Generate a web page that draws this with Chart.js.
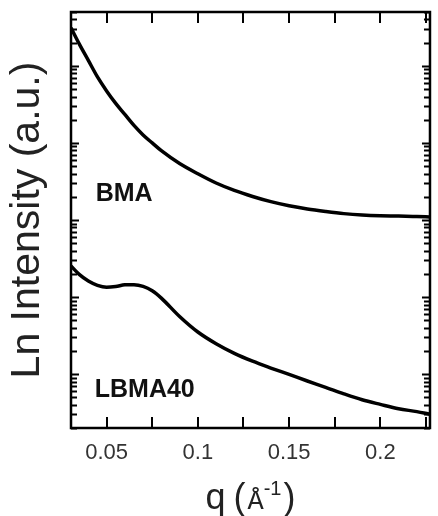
<!DOCTYPE html>
<html>
<head>
<meta charset="utf-8">
<script src="https://cdn.jsdelivr.net/npm/chart.js@4.4.0/dist/chart.umd.min.js"></script>
<style>
  body { margin: 0; background: #fff; }
  #wrap { width: 438px; height: 516px; }
</style>
</head>
<body>
<div id="wrap"><canvas id="saxs-chart" width="438" height="516"></canvas></div>
<script>
// ==================== DATA ====================
// scattering vector q (1/Å), shared by both curves
const qValues = [0.0305, 0.035, 0.04, 0.045, 0.05, 0.055, 0.06, 0.065, 0.07, 0.075, 0.08,
  0.09, 0.10, 0.11, 0.12, 0.13, 0.14, 0.15, 0.16, 0.17, 0.18, 0.19, 0.20, 0.21, 0.22, 0.227];

// intensities (a.u.), log axis
const bmaIntensity = [31180, 19320, 11790, 7195, 4733, 3258, 2345, 1688, 1270, 1000, 792,
  540, 398, 302, 242, 202, 173, 153, 139, 129, 121, 116, 113.4, 112.4, 110.7, 109.4];
const lbmaIntensity = [25.27, 19.66, 16.14, 14.19, 13.40, 13.70, 14.40, 14.50, 13.80, 12.10, 9.70,
  5.60, 3.52, 2.48, 1.86, 1.47, 1.20, 0.99, 0.815, 0.675, 0.555, 0.465, 0.405, 0.356, 0.326, 0.302];

const seriesNames = ['BMA', 'LBMA40'];

const xTickValues = [0.05, 0.075, 0.1, 0.125, 0.15, 0.175, 0.2, 0.225];
const xTickLabels = ['0.05', '', '0.1', '', '0.15', '', '0.2', ''];
const yDecades = [-1, 0, 1, 2, 3, 4];
const yMantissas = [1, 2, 3, 4, 5, 6, 7, 8, 9];

const FONT = '"Liberation Sans", Arial, sans-serif';

// inward ticks, closed frame, curve names and the x title
const framePlugin = {
  id: 'frame',
  afterDatasetsDraw(chart) {
    const { ctx, chartArea: a, scales: { x, y } } = chart;
    ctx.save();
    ctx.strokeStyle = '#000';

    ctx.lineWidth = 2;
    ctx.beginPath();
    x.ticks.forEach(t => {
      const px = Math.round(x.getPixelForValue(t.value));
      ctx.moveTo(px, a.bottom); ctx.lineTo(px, a.bottom - 11);
      ctx.moveTo(px, a.top); ctx.lineTo(px, a.top + 11);
    });
    y.ticks.forEach(t => {
      const py = Math.round(y.getPixelForValue(t.value)) + 0.5;
      const len = t.major ? 8 : 6;
      ctx.moveTo(a.left, py); ctx.lineTo(a.left + len, py);
      ctx.moveTo(a.right, py); ctx.lineTo(a.right - len, py);
    });
    ctx.stroke();

    ctx.lineWidth = 2.5;
    ctx.strokeRect(a.left, a.top, a.right - a.left, a.bottom - a.top);

    // curve names
    ctx.fillStyle = '#111';
    ctx.font = 'bold 25px ' + FONT;
    ctx.textBaseline = 'middle';
    ctx.textAlign = 'left';
    ctx.fillText(seriesNames[0], x.getPixelForValue(0.044), y.getPixelForValue(218));
    ctx.fillText(seriesNames[1], x.getPixelForValue(0.0435), y.getPixelForValue(0.62));

    // x title: q (Å-1)
    const cx = (a.left + a.right) / 2;
    const base = 509;
    ctx.fillStyle = '#222';
    ctx.textBaseline = 'alphabetic';
    const parts = [
      { t: 'q', f: '36px ' + FONT, dy: 0, gap: 8 },
      { t: '(', f: '36px ' + FONT, dy: 0, gap: 2 },
      { t: 'Å', f: '27px "Liberation Mono", "DejaVu Sans Mono", monospace', dy: 0, gap: 0 },
      { t: '-1', f: '20px ' + FONT, dy: -14, gap: 2 },
      { t: ')', f: '36px ' + FONT, dy: 0, gap: 0 }
    ];
    let total = 0;
    parts.forEach(p => { ctx.font = p.f; p.w = ctx.measureText(p.t).width; total += p.w + p.gap; });
    let px = cx - total / 2;
    parts.forEach(p => {
      ctx.font = p.f;
      ctx.fillText(p.t, px, base + p.dy);
      px += p.w + p.gap;
    });
    ctx.restore();
  }
};

const ctx = document.getElementById('saxs-chart');

new Chart(ctx, {
  type: 'line',
  data: {
    labels: qValues,
    datasets: [
      {
        label: seriesNames[0],
        data: qValues.map((q, i) => ({ x: q, y: bmaIntensity[i] })),
        borderColor: '#000',
        borderWidth: 3.5,
        pointRadius: 0,
        cubicInterpolationMode: 'monotone',
        fill: false
      },
      {
        label: seriesNames[1],
        data: qValues.map((q, i) => ({ x: q, y: lbmaIntensity[i] })),
        borderColor: '#000',
        borderWidth: 3.5,
        pointRadius: 0,
        cubicInterpolationMode: 'monotone',
        fill: false
      }
    ]
  },
  options: {
    responsive: false,
    animation: false,
    layout: { padding: { top: 12, right: 3, left: 0, bottom: 0 } },
    plugins: {
      legend: { display: false },
      tooltip: { enabled: false }
    },
    scales: {
      x: {
        type: 'linear',
        min: 0.0305,
        max: 0.2272,
        afterBuildTicks: (scale) => {
          scale.ticks = xTickValues.map(v => ({ value: v }));
        },
        afterFit: (scale) => { scale.height = 88; },
        ticks: {
          autoSkip: false,
          maxRotation: 0,
          padding: 12,
          color: '#333',
          font: { family: FONT, size: 22 },
          callback: (val, i) => xTickLabels[i]
        },
        grid: { display: false, drawTicks: false },
        border: { display: false },
        title: { display: false }
      },
      y: {
        type: 'logarithmic',
        min: 0.2,
        max: 50000,
        afterBuildTicks: (scale) => {
          const list = [];
          yDecades.forEach(d => {
            yMantissas.forEach(m => {
              const v = m * Math.pow(10, d);
              if (v >= scale.min && v <= scale.max) list.push({ value: v, major: m === 1 });
            });
          });
          scale.ticks = list;
        },
        afterFit: (scale) => { scale.width = 71; },
        ticks: { display: false },
        grid: { display: false, drawTicks: false },
        border: { display: false },
        title: {
          display: true,
          text: 'Ln Intensity (a.u.)',
          color: '#222',
          font: { family: FONT, size: 41 },
          padding: { top: 3, bottom: 0 }
        }
      }
    }
  },
  plugins: [framePlugin]
});
</script>
</body>
</html>
